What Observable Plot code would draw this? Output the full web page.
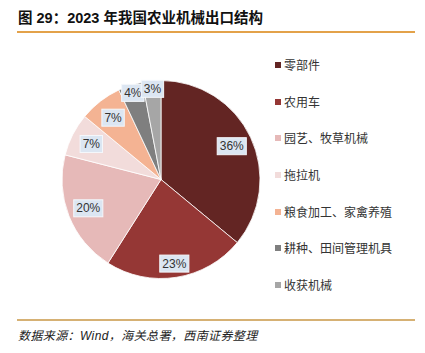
<!DOCTYPE html>
<html>
<head>
<meta charset="utf-8">
<script src="https://cdn.jsdelivr.net/npm/d3@7"></script>
<script src="https://cdn.jsdelivr.net/npm/@observablehq/plot@0.6"></script>
<style>
  html, body { margin: 0; padding: 0; background: #fff; }
  #wrap { position: relative; width: 425px; height: 353px; overflow: hidden; font-family: "Liberation Sans", "Noto Sans CJK SC", sans-serif; }
  #title { position: absolute; left: 18px; top: 6px; font-size: 14.5px; font-weight: bold; color: #111; letter-spacing: 0px; white-space: nowrap; }
  #topline { position: absolute; left: 17px; top: 31px; width: 398px; height: 2px; background: #e3a24a; }
  #chart { position: absolute; left: 0; top: 40px; }
  #legend { position: absolute; left: 275px; top: 56px; }
  .li { height: 36.7px; display: flex; align-items: flex-start; font-family: "Noto Sans CJK SC", sans-serif; font-size: 12px; color: #333; white-space: nowrap; }
  .sw { width: 6px; height: 6px; margin-top: 6px; margin-right: 3px; }
  #botline { position: absolute; left: 17px; top: 319px; width: 398px; height: 2px; background: #d6b174; }
  #source { position: absolute; left: 18px; top: 326px; font-size: 12px; font-style: italic; color: #222; white-space: nowrap; font-family: "Liberation Sans", "Noto Sans CJK SC", sans-serif; letter-spacing: 0.4px; }
</style>
</head>
<body>
<div id="wrap">
  <div id="title">图 29：2023 年我国农业机械出口结构</div>
  <div id="topline"></div>
  <div id="chart"></div>
  <div id="legend"></div>
  <div id="botline"></div>
  <div id="source">数据来源：Wind，海关总署，西南证券整理</div>
</div>
<script>
const categories = ["零部件", "农用车", "园艺、牧草机械", "拖拉机", "粮食加工、家禽养殖", "耕种、田间管理机具", "收获机械"];
const shares = [36, 23, 20, 7, 7, 4, 3];
const colors = ["#632523", "#953735", "#e6b9b8", "#f2dcdb", "#f4b393", "#7f7f7f", "#a6a6a6"];

const data = categories.map((c, i) => ({category: c, value: shares[i], color: colors[i]}));

const pieMark = (index, scales, values, dimensions, context) => {
  const cx = scales.x(0), cy = scales.y(0);
  const r = Math.abs(scales.x(1) - scales.x(0));
  const arcs = d3.pie().sort(null).value(d => d.value)(data);
  const arc = d3.arc().innerRadius(0).outerRadius(r);
  const g = d3.create("svg:g").attr("transform", `translate(${cx},${cy})`);
  g.selectAll("path").data(arcs).join("path")
    .attr("d", arc)
    .attr("fill", d => d.data.color)
    .attr("stroke", "#fff")
    .attr("stroke-width", 0.8);
  const lab = g.selectAll("g.lab").data(arcs).join("g")
    .attr("transform", d => {
      const a = (d.startAngle + d.endAngle) / 2;
      const f = d.data.value < 5 ? 0.92 : (d.data.value > 21 && d.data.value < 30 ? 0.86 : 0.79);
      return `translate(${Math.sin(a) * r * f},${-Math.cos(a) * r * f})`;
    });
  lab.append("rect")
    .attr("x", d => -(String(d.data.value).length * 6.7 + 10.7 + 5) / 2)
    .attr("y", -8.5)
    .attr("width", d => String(d.data.value).length * 6.7 + 10.7 + 5)
    .attr("height", 17)
    .attr("fill", "#dce6f2")
    .attr("stroke", "#f4f7fb")
    .attr("stroke-width", 1);
  lab.append("text")
    .attr("text-anchor", "middle")
    .attr("dy", "0.35em")
    .attr("font-family", "Liberation Sans, sans-serif")
    .attr("font-size", 12)
    .attr("fill", "#333")
    .text(d => d.data.value + "%");
  return g.node();
};

const plot = Plot.plot({
  width: 320,
  height: 280,
  marginLeft: 62,
  marginRight: 60,
  marginTop: 41,
  marginBottom: 42,
  x: {domain: [-1, 1], axis: null},
  y: {domain: [-1, 1], axis: null},
  style: {background: "transparent"},
  marks: [pieMark]
});
document.getElementById("chart").appendChild(plot);

const legend = d3.select("#legend");
data.forEach(d => {
  const row = legend.append("div").attr("class", "li");
  row.append("div").attr("class", "sw").style("background", d.color);
  row.append("span").text(d.category);
});
</script>
</body>
</html>
